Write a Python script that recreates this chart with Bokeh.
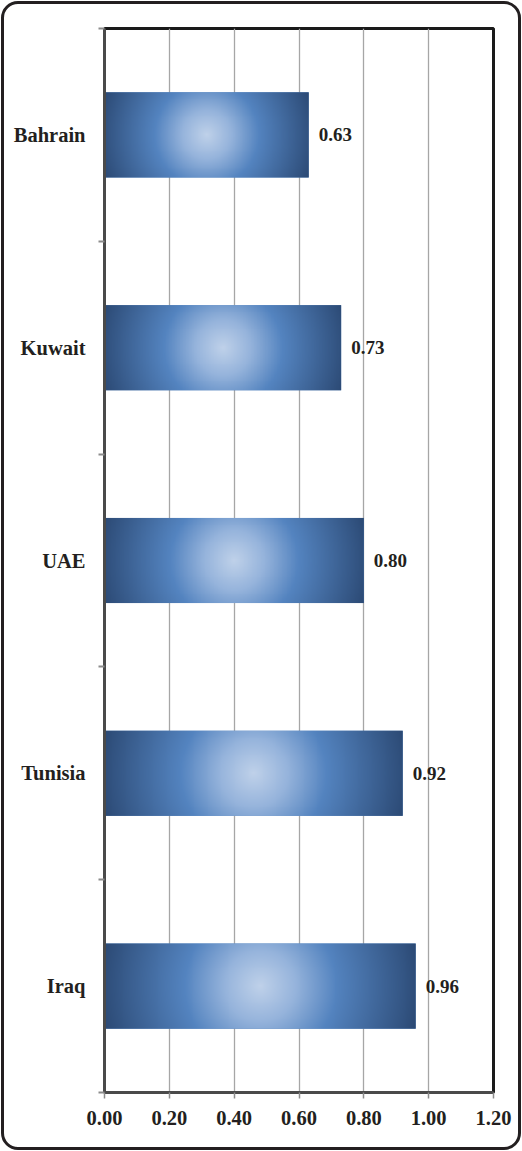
import numpy as np
from bokeh.plotting import figure
from bokeh.models import Range1d, FixedTicker, ColumnDataSource
from bokeh.core.properties import value
from bokeh.embed import file_html
from bokeh.resources import INLINE

# ---- data ----
countries = ["Iraq", "Tunisia", "UAE", "Kuwait", "Bahrain"]   # bottom -> top
scores = [0.96, 0.92, 0.80, 0.73, 0.63]
value_labels = ["0.96", "0.92", "0.80", "0.73", "0.63"]
x_ticks = [0.0, 0.2, 0.4, 0.6, 0.8, 1.0, 1.2]
x_tick_labels = ["0.00", "0.20", "0.40", "0.60", "0.80", "1.00", "1.20"]

positions = [i + 0.5 for i in range(len(countries))]
BAR_H = 0.4

W, H = 522, 1151
ML, MR, MT, MB = 104, 29, 28, 59
FRAME_W = W - ML - MR
FRAME_H = H - MT - MB

FONT = "Liberation Serif"
TXT = "#231f20"

p = figure(width=W, height=H, output_backend="svg", toolbar_location=None,
           x_range=Range1d(0, 1.2), y_range=Range1d(0, len(countries)),
           min_border_left=ML, min_border_right=MR, min_border_top=MT, min_border_bottom=MB)
p.background_fill_color = "white"
p.border_fill_color = "white"
p.border_fill_alpha = 0
p.outline_line_color = "#1a1a1a"
p.outline_line_width = 3
p.styles = {"outline": "3px solid #231f20", "outline-offset": "-4px",
            "border-radius": "18px"}

# grid
p.ygrid.grid_line_color = None
p.xgrid.grid_line_color = "#a6a6a6"
p.xgrid.grid_line_width = 1.3
p.xgrid.ticker = FixedTicker(ticks=x_ticks)

# x axis
p.xaxis.ticker = FixedTicker(ticks=x_ticks)
p.xaxis.major_label_overrides = {t: l for t, l in zip(x_ticks, x_tick_labels)}
p.xaxis.major_label_text_font = FONT
p.xaxis.major_label_text_font_style = "bold"
p.xaxis.major_label_text_font_size = "20.5px"
p.xaxis.major_label_text_color = TXT
p.xaxis.major_label_standoff = 12
p.xaxis.major_tick_out = 6
p.xaxis.major_tick_in = 0
p.xaxis.major_tick_line_color = "#8c8c8c"
p.xaxis.major_tick_line_width = 1.5
p.xaxis.minor_tick_line_color = None
p.xaxis.axis_line_color = "#4a4a4a"
p.xaxis.axis_line_width = 3

# y axis
p.yaxis.ticker = FixedTicker(ticks=positions, minor_ticks=list(range(len(countries) + 1)))
p.yaxis.major_label_overrides = {pos: c for pos, c in zip(positions, countries)}
p.yaxis.major_label_text_font = FONT
p.yaxis.major_label_text_font_style = "bold"
p.yaxis.major_label_text_font_size = "20.5px"
p.yaxis.major_label_text_color = TXT
p.yaxis.major_label_standoff = 13
p.yaxis.major_tick_out = 0
p.yaxis.major_tick_in = 0
p.yaxis.major_tick_line_color = None
p.yaxis.minor_tick_out = 6
p.yaxis.minor_tick_in = 0
p.yaxis.minor_tick_line_color = "#8c8c8c"
p.yaxis.minor_tick_line_width = 2
p.yaxis.axis_line_color = "#4a4a4a"
p.yaxis.axis_line_width = 3

# base bars
src = ColumnDataSource(dict(y=positions, right=scores, label=value_labels))
p.hbar(y="y", left=0, right="right", height=BAR_H, source=src,
       fill_color="#4f81bd", line_color=None)

# radial gradient overlay (style only)
stops_t = [0.0, 0.22, 0.47, 1.0]
stops_c = np.array([[192, 210, 234], [150, 180, 220], [84, 132, 192], [44, 74, 117]],
                   dtype=float)

def gradient_image(px_w, px_h, nx=320, ny=90):
    xs = (np.arange(nx) + 0.5) / nx - 0.5
    ys = (np.arange(ny) + 0.5) / ny - 0.5
    X, Y = np.meshgrid(xs * px_w, ys * px_h)
    d = np.sqrt(X ** 2 + Y ** 2) / np.hypot(px_w / 2, px_h / 2)
    img = np.empty((ny, nx), dtype=np.uint32)
    view = img.view(dtype=np.uint8).reshape((ny, nx, 4))
    for k in range(3):
        view[:, :, k] = np.interp(d, stops_t, stops_c[:, k]).astype(np.uint8)
    view[:, :, 3] = 255
    return img

px_per_x = FRAME_W / 1.2
px_per_y = FRAME_H / len(countries)
for pos, v in zip(positions, scores):
    img = gradient_image(v * px_per_x, BAR_H * px_per_y)
    p.image_rgba(image=[img], x=0, y=pos - BAR_H / 2, dw=v, dh=BAR_H)

# value labels
p.text(x="right", y="y", text="label", source=src, x_offset=10,
       text_font=value(FONT), text_font_style="bold", text_font_size="19px",
       text_color=TXT, text_align="left", text_baseline="middle")

open("out.html", "w").write(file_html(p, INLINE))
